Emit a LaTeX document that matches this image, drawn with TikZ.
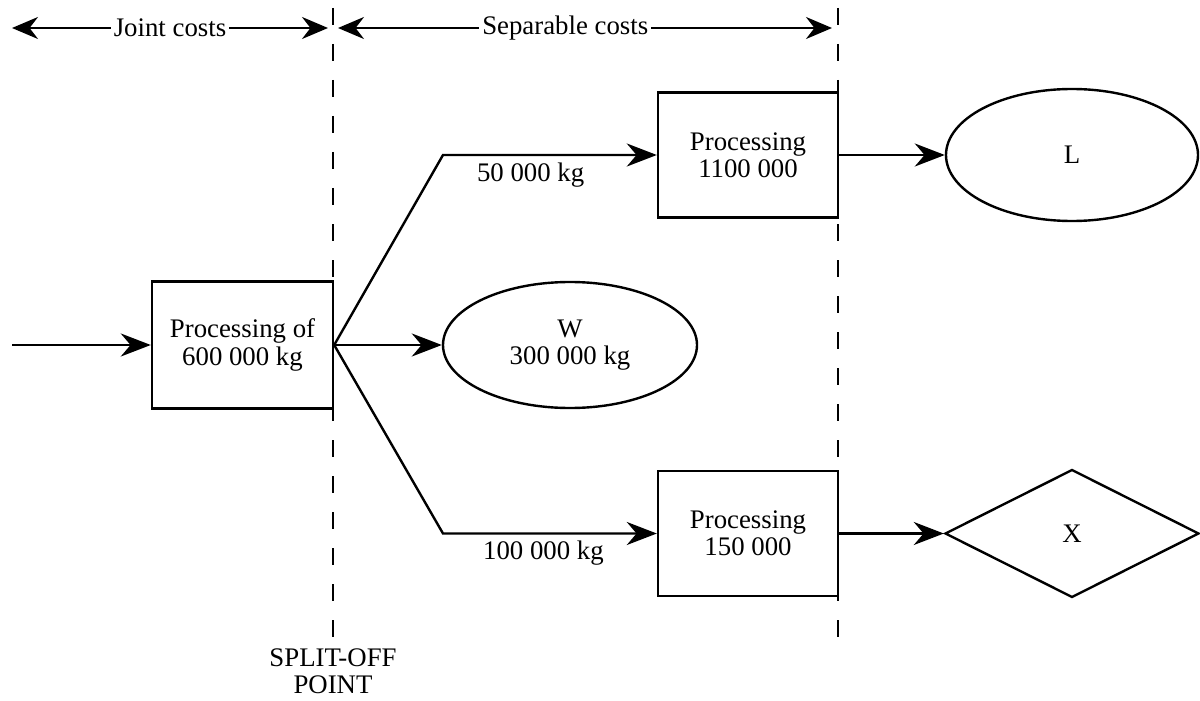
\documentclass[tikz,border=0pt]{standalone}
\usepackage{fontspec}
\setmainfont{Liberation Serif}
\usetikzlibrary{arrows.meta,shapes.geometric}

\begin{document}
\begin{tikzpicture}[x=0.5pt,y=-0.5pt,line width=1.2pt,
    font=\fontsize{13.4}{13.6}\selectfont,
    procbox/.style={rectangle,draw,align=center,minimum width=90pt,minimum height=62.5pt,inner sep=0pt},
    prodshape/.style={draw,align=center,inner sep=0pt},
    flow/.style={-{Stealth[length=15pt,width=11.5pt]}},
    costarrow/.style={{Stealth[length=13pt,width=11pt]}-{Stealth[length=13pt,width=11pt]}},
    splitline/.style={dash pattern=on 8.5pt off 9.5pt}]
  \useasboundingbox (0,0) rectangle (1200,701);

  % split-off lines
  \draw[splitline] (333,8) -- (333,640);
  \draw[splitline] (838,8) -- (838,640);

  % cost ranges along the top
  \coordinate (jl) at (12,28);
  \coordinate (jr) at (328,28);
  \coordinate (sl) at (338,28);
  \coordinate (sr) at (832,28);
  \draw[costarrow] (jl) -- node[fill=white,inner xsep=1.5pt,inner ysep=1pt] (jointlbl) {Joint costs} (jr);
  \draw[costarrow] (sl) -- node[fill=white,inner xsep=1.5pt,inner ysep=1pt,pos=0.46] (seplbl) {Separable costs} (sr);

  % processes and products
  \node[procbox,minimum width=90.5pt,minimum height=63.5pt] (joint) at (242.5,345) {Processing of\\600 000 kg};
  \node[procbox] (procL) at (748,155) {Processing\\1100 000};
  \node[procbox] (procX) at (748,533.5) {Processing\\150 000};
  \node[prodshape,ellipse,minimum width=127pt,minimum height=63pt] (prodW) at (570,345) {W\\300 000 kg};
  \node[prodshape,ellipse,minimum width=126pt,minimum height=66pt] (prodL) at (1072,155) {L};
  \node[prodshape,diamond,minimum width=127pt,minimum height=64pt] (prodX) at (1072,533.5) {X};

  \coordinate (feed) at (12,345);
  \coordinate (kneeL) at (443,155);
  \coordinate (kneeX) at (443,533.5);

  \draw[flow] (feed) -- (joint.west);
  \draw[flow] (joint.east) -- (kneeL) -- node[below,pos=0.41] (qtyL) {50 000 kg} (procL.west);
  \draw[flow] (joint.east) -- (prodW.west);
  \draw[flow] (joint.east) -- (kneeX) -- node[below,pos=0.47] (qtyX) {100 000 kg} (procX.west);
  \draw[flow] (procL.east) -- (prodL.west);
  \draw[flow] (procX.east) -- (prodX.west);

  \node[align=center,inner sep=1pt] (splitlbl) at (333,671) {SPLIT-OFF\\POINT};
\end{tikzpicture}
\end{document}
